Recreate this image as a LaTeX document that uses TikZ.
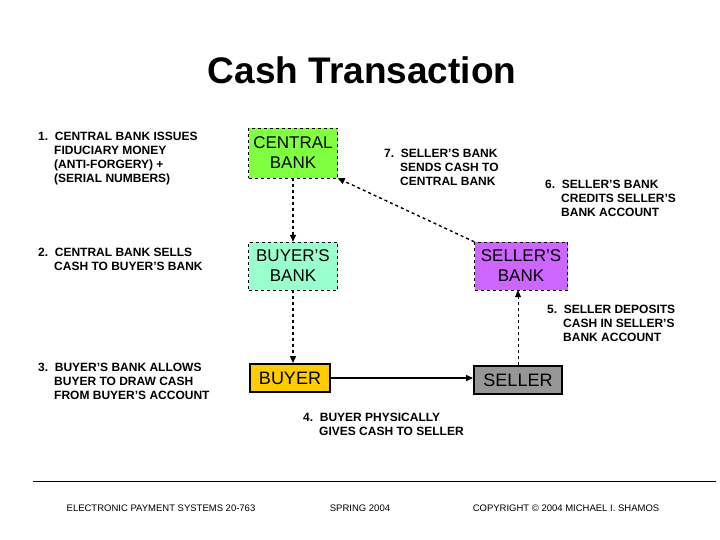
\documentclass[tikz,border=0pt]{standalone}
\usepackage{fontspec}
\setmainfont{Liberation Sans}
\usetikzlibrary{arrows.meta}
\begin{document}
\begin{tikzpicture}[x=1pt,y=-1pt,
  box/.style={draw,dashed,minimum width=89pt,minimum height=50pt,align=center,font=\fontsize{17}{20}\selectfont,inner sep=0pt},
  sbox/.style={draw,line width=2pt,minimum height=28pt,align=center,font=\fontsize{18}{20}\selectfont,inner sep=0pt},
  lbl/.style={align=left,anchor=north west,font=\bfseries\fontsize{12}{14}\selectfont,inner sep=0pt},
  foot/.style={font=\fontsize{9.5}{11}\selectfont,inner sep=0pt},
  tip/.style={-{Triangle[length=7pt,width=6pt]}},
  da/.style={dashed,line width=1.4pt,tip}]
\useasboundingbox (0,0) rectangle (720,540);
\node[font=\bfseries\fontsize{37}{42}\selectfont] (title) at (362,70) {Cash Transaction};
\node[box,fill={rgb,255:red,128;green,255;blue,64}] (cb) at (293,153) {CENTRAL\\BANK};
\node[box,fill={rgb,255:red,153;green,255;blue,204},minimum height=48pt] (bb) at (293,266) {BUYER'S\\BANK};
\node[box,fill={rgb,255:red,204;green,102;blue,255},minimum width=93pt,minimum height=48pt] (sb) at (521,266) {SELLER'S\\BANK};
\node[sbox,fill={rgb,255:red,255;green,204;blue,0},minimum width=80pt] (buyer) at (290,378) {BUYER};
\node[sbox,fill={rgb,255:red,150;green,150;blue,150},minimum width=88pt] (seller) at (518,380) {SELLER};
\draw[da] (cb.south) -- (cb.south |- bb.north);
\draw[da] (bb.south) -- (bb.south |- buyer.north);
\draw[tip,line width=1.4pt] (buyer.east) -- (buyer.east -| seller.west);
\draw[dashed,line width=0.9pt,tip] (seller.north) -- (seller.north |- sb.south);
\draw[da] (sb.north west) -- (cb.south east);
\node[lbl] (l1) at (38,132) {1.\ \ CENTRAL BANK ISSUES\\\hspace{16pt}FIDUCIARY MONEY\\\hspace{16pt}(ANTI-FORGERY) +\\\hspace{16pt}(SERIAL NUMBERS)};
\node[lbl] (l2) at (38,248) {2.\ \ CENTRAL BANK SELLS\\\hspace{16pt}CASH TO BUYER'S BANK};
\node[lbl] (l3) at (38,363) {3.\ \ BUYER'S BANK ALLOWS\\\hspace{16pt}BUYER TO DRAW CASH\\\hspace{16pt}FROM BUYER'S ACCOUNT};
\node[lbl] (l4) at (303,413) {4.\ \ BUYER PHYSICALLY\\\hspace{16pt}GIVES CASH TO SELLER};
\node[lbl] (l5) at (547,305) {5.\ \ SELLER DEPOSITS\\\hspace{16pt}CASH IN SELLER'S\\\hspace{16pt}BANK ACCOUNT};
\node[lbl] (l6) at (545,180) {6.\ \ SELLER'S BANK\\\hspace{16pt}CREDITS SELLER'S\\\hspace{16pt}BANK ACCOUNT};
\node[lbl] (l7) at (384,149) {7.\ \ SELLER'S BANK\\\hspace{16pt}SENDS CASH TO\\\hspace{16pt}CENTRAL BANK};
\coordinate (r1) at (33,481); \coordinate (r2) at (716,481);
\draw (r1) -- (r2);
\node[foot] (f1) at (161,508) {ELECTRONIC PAYMENT SYSTEMS 20-763};
\node[foot] (f2) at (360,508) {SPRING 2004};
\node[foot] (f3) at (566,508) {COPYRIGHT © 2004 MICHAEL I. SHAMOS};
\end{tikzpicture}
\end{document}
